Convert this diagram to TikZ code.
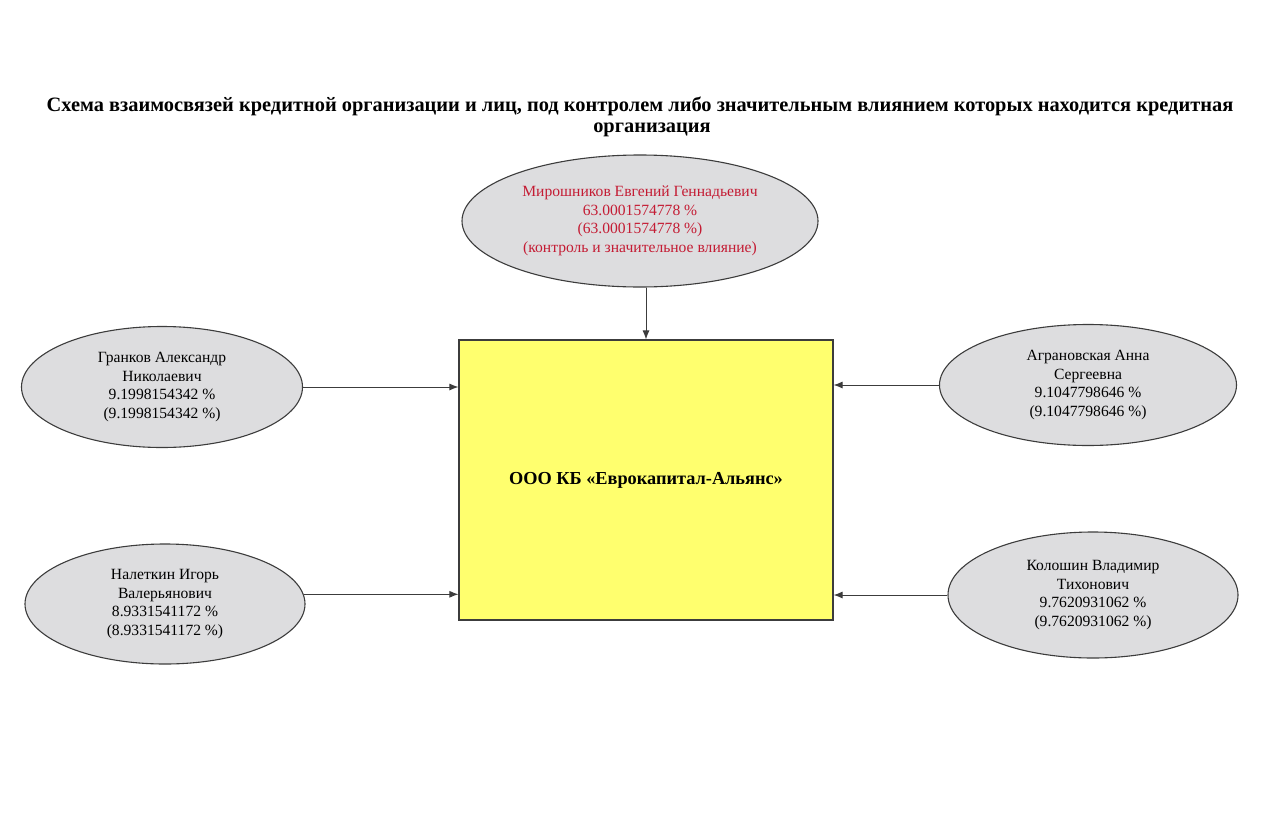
\documentclass[tikz,border=0pt]{standalone}
\usepackage{fontspec}
\setmainfont{Liberation Serif}
\usetikzlibrary{shapes.geometric,arrows.meta}

\definecolor{ovalgray}{RGB}{221,221,223}
\definecolor{boxyellow}{RGB}{255,255,110}
\definecolor{ownerred}{RGB}{196,28,52}
\definecolor{linegray}{RGB}{60,60,60}

\tikzset{
    person/.style={ellipse, draw=linegray, line width=1.1pt, fill=ovalgray, inner sep=0pt,
        align=center, font=\fontsize{15.6}{18.6}\selectfont},
    bank/.style={rectangle, draw=linegray, line width=1.1pt, fill=boxyellow,
        minimum width=374pt, minimum height=280pt,
        font=\bfseries\fontsize{18.3}{22}\selectfont},
    link/.style={draw=linegray, line width=1pt, -{Latex[length=9pt,width=7pt]}}
}

\begin{document}
\begin{tikzpicture}[x=1pt, y=-1pt]

    \useasboundingbox (0,0) rectangle (1280,838);

    % Заголовок
    \node (title) at (640,106) [font=\bfseries\fontsize{20.4}{24}\selectfont]
        {Схема взаимосвязей кредитной организации и лиц, под контролем либо значительным влиянием которых находится кредитная};
    \node (title2) at (652,130) [font=\bfseries\fontsize{20.4}{24}\selectfont] {организация};

    % Кредитная организация
    \node[bank] (kb) at (646,480) {ООО КБ «Еврокапитал-Альянс»};

    % Участники
    \node[person, text=ownerred, minimum width=356pt, minimum height=132pt] (mir) at (640,221)
        {Мирошников Евгений Геннадьевич\\63.0001574778 \%\\(63.0001574778 \%)\\(контроль и значительное влияние)};
    \node[person, minimum width=281pt, minimum height=121pt] (gran) at (162,387)
        {Гранков Александр\\Николаевич\\9.1998154342 \%\\(9.1998154342 \%)};
    \node[person, minimum width=280pt, minimum height=120pt] (nal) at (165,604)
        {Налеткин Игорь\\Валерьянович\\8.9331541172 \%\\(8.9331541172 \%)};
    \node[person, minimum width=297pt, minimum height=121pt] (agr) at (1088,385)
        {Аграновская Анна\\Сергеевна\\9.1047798646 \%\\(9.1047798646 \%)};
    \node[person, minimum width=290pt, minimum height=126pt] (kol) at (1093,595)
        {Колошин Владимир\\Тихонович\\9.7620931062 \%\\(9.7620931062 \%)};

    % Связи
    \draw[link] (mir.south -| kb.north) -- (kb.north);
    \draw[link] (gran.east) -- (gran.east -| kb.west);
    \draw[link] (nal.4) -- (nal.4 -| kb.west);
    \draw[link] (agr.west) -- (agr.west -| kb.east);
    \draw[link] (kol.west) -- (kol.west -| kb.east);

\end{tikzpicture}
\end{document}
